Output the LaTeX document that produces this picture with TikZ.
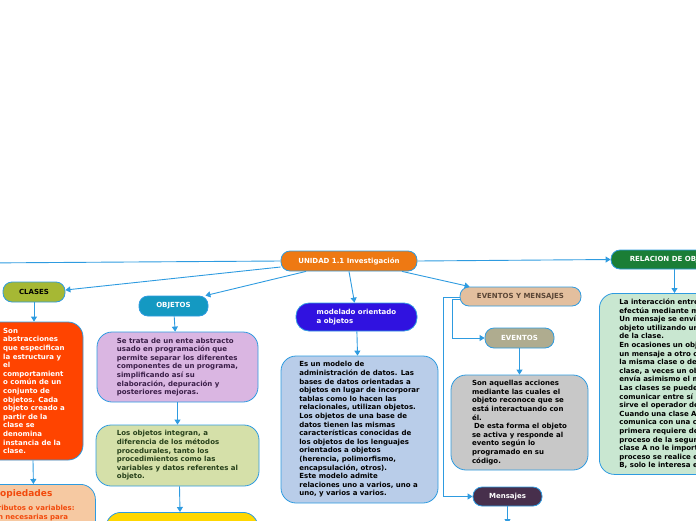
\documentclass[tikz,border=0pt]{standalone}
\usepackage{fontspec}
\setmainfont{DejaVu Sans}
\usetikzlibrary{arrows.meta,positioning}
\definecolor{MapBlue}{HTML}{2E9BE0}
\definecolor{RootOrange}{HTML}{EE7913}
\definecolor{ClasesOlive}{HTML}{A6B834}
\definecolor{ObjetosTeal}{HTML}{1499C2}
\definecolor{ModeloBlue}{HTML}{3012E0}
\definecolor{EymTan}{HTML}{E3BF9E}
\definecolor{EymText}{HTML}{5B4636}
\definecolor{EventosGray}{HTML}{AFAC8F}
\definecolor{MensajesPlum}{HTML}{472F4C}
\definecolor{RelacionGreen}{HTML}{1B7E36}
\definecolor{ClasesRed}{HTML}{FF4400}
\definecolor{PropPeach}{HTML}{F6C9A2}
\definecolor{PropText}{HTML}{F24A0C}
\definecolor{ObjLilac}{HTML}{DAB6E2}
\definecolor{ObjLilacText}{HTML}{3A1E48}
\definecolor{ObjSage}{HTML}{D5E0A9}
\definecolor{ObjSageText}{HTML}{26401A}
\definecolor{ObjYellow}{HTML}{FFD700}
\definecolor{ModeloSky}{HTML}{B9CDE9}
\definecolor{EventosSilver}{HTML}{C8C8C8}
\definecolor{RelacionMint}{HTML}{C9E7D1}
\tikzset{
    % Rounded topic boxes
    topic/.style={
        rectangle,
        rounded corners=9pt,
        draw=MapBlue,
        line width=0.8pt,
        inner sep=0pt,
        align=center,
        font=\fontsize{7}{8.6}\selectfont\bfseries
    },
    topic root/.style={
        topic,
        fill=RootOrange,
        text=white,
        minimum width=136pt,
        minimum height=20pt
    },
    topic small/.style={
        topic,
        minimum width=69pt,
        minimum height=20pt
    },
    topic wide/.style={
        topic,
        minimum width=121pt,
        minimum height=19pt
    },
    note/.style={
        topic,
        rounded corners=15pt,
        align=left
    },
    arrow/.style={
        -{Triangle[width=6pt,length=5pt]},
        line width=0.9pt,
        color=MapBlue
    },
    link/.style={
        line width=0.9pt,
        color=MapBlue
    }
}
\begin{document}
\begin{tikzpicture}[x=1pt, y=-1pt]
        \clip (0,0) rectangle (696,520);
        % Main topics
        \node[topic root] (root) at (349,261) {UNIDAD 1.1 Investigación};
        \node[topic small, fill=ClasesOlive, minimum width=62pt] (clases) at (34,292) {CLASES};
        \node[topic small, fill=ObjetosTeal, text=white] (objetos) at (173.5,306) {OBJETOS};
        \node[topic wide, fill=ModeloBlue, text=white, align=left, minimum height=28pt, rounded corners=13pt]
              (modelado) at (356.5,317) {modelado orientado\\a objetos};
        \node[topic wide, fill=EymTan, text=EymText] (eym) at (520.5,296.5) {EVENTOS Y MENSAJES};
        \node[topic small, fill=EventosGray, text=white] (eventos) at (519.5,338) {EVENTOS};
        \node[topic small, fill=MensajesPlum, text=white, minimum height=19pt] (mensajes) at (507.5,496.5) {Mensajes};
        \node[topic, fill=RelacionGreen, text=white, minimum width=127pt, minimum height=19pt]
              (relacion) at (674.5,259.5) {RELACION DE OBJETOS};

        % Notes
        \node[note, fill=ClasesRed, text=white, minimum width=98pt, minimum height=138pt]
              (clasesdesc) at (34,391)
              {Son\\abstracciones\\que especifican\\la estructura y\\el\\comportamient\\o común de un\\conjunto de\\objetos. Cada\\objeto creado a\\partir de la\\clase se\\denomina\\instancia de la\\clase.};
        \node[note, fill=PropPeach, text=PropText, anchor=north west, minimum width=127pt,
              inner xsep=20pt, inner ysep=5pt]
              (props) at (-32,484)
              {{\fontsize{9}{11}\selectfont Propiedades}\\[6pt]Atributos o variables:\\son necesarias para\\[4pt]};
        \node[note, fill=ObjLilac, text=ObjLilacText, minimum width=161pt, minimum height=70pt]
              (objdesc) at (177.5,367)
              {Se trata de un ente abstracto\\usado en programación que\\permite separar los diferentes\\componentes de un programa,\\simplificando así su\\elaboración, depuración y\\posteriores mejoras.};
        \node[note, fill=ObjSage, text=ObjSageText, minimum width=163pt, minimum height=61pt]
              (objint) at (177.5,455.5)
              {Los objetos integran, a\\diferencia de los métodos\\procedurales, tanto los\\procedimientos como las\\variables y datos referentes al\\objeto.};
        \node[note, fill=ObjYellow, anchor=north, minimum width=152pt, minimum height=40pt]
              (objnext) at (182,512) {};
        \node[note, fill=ModeloSky, text=black, minimum width=157pt, minimum height=147pt]
              (modelodesc) at (359.5,429.5)
              {Es un modelo de\\administración de datos. Las\\bases de datos orientadas a\\objetos en lugar de incorporar\\tablas como lo hacen las\\relacionales, utilizan objetos.\\Los objetos de una base de\\datos tienen las mismas\\características conocidas de\\los objetos de los lenguajes\\orientados a objetos\\(herencia, polimorfismo,\\encapsulación, otros).\\Este modelo admite\\relaciones uno a varios, uno a\\uno, y varios a varios.};
        \node[note, fill=EventosSilver, text=black, minimum width=137pt, minimum height=95pt]
              (eventosdesc) at (519.5,422.5)
              {Son aquellas acciones\\mediante las cuales el\\objeto reconoce que se\\está interactuando con\\él.\\\hspace{2pt}De esta forma el objeto\\se activa y responde al\\evento según lo\\programado en su\\código.};
        \node[note, fill=RelacionMint, text=black, anchor=north west, minimum height=181pt,
              inner xsep=20pt]
              (relaciondesc) at (599,293)
              {La interacción entre objetos se\\efectúa mediante mensajes.\\Un mensaje se envía a un\\objeto utilizando un método\\de la clase.\\En ocasiones un objeto envía\\un mensaje a otro objeto de\\la misma clase o de otra\\clase, a veces un objeto se\\envía asimismo el mensaje.\\Las clases se pueden\\comunicar entre sí para ello\\sirve el operador de envío.\\Cuando una clase A se\\comunica con una clase B, la\\primera requiere de algún\\proceso de la segunda, a la\\clase A no le importa cómo el\\proceso se realice en la clase\\B, solo le interesa el resultado.};

        % Free ends beyond the frame
        \coordinate (offleft) at (-20,263);
        \coordinate (offbottom) at (507.5,524);

        % Connectors from the root
        \draw[link] (root.west) -- (offleft);
        \draw[arrow] ([yshift=-6pt]root.west) -- ([yshift=2pt]clases.east);
        \draw[arrow] ([xshift=-43pt]root.south) -- ([xshift=-3pt]objetos.north east);
        \draw[arrow] (root.south) -- ([xshift=-2pt]modelado.north);
        \draw[arrow] ([xshift=53pt]root.south) -- ([xshift=10pt]eym.north west);
        \draw[arrow] (root.east) -- (relacion.west);

        % Connectors inside the branches
        \draw[arrow] (clases) -- (clasesdesc);
        \draw[arrow] ([xshift=-1pt]clasesdesc.south) -- ([xshift=1.5pt]props.north);
        \draw[arrow] (objetos) -- (objdesc);
        \draw[arrow] (objdesc) -- (objint);
        \draw[arrow] ([xshift=2pt]objint.south) -- ([xshift=-2pt]objnext.north);
        \draw[arrow] (modelado) -- (modelodesc);
        \draw[arrow] ([yshift=-3pt]eym.west) -- ++(-7,0) |- (eventos.west);
        \draw[arrow] ([yshift=-1pt]eym.west) -- ++(-16,0) |- (mensajes.west);
        \draw[arrow] (eventos) -- (eventosdesc);
        \draw[arrow] (mensajes) -- (offbottom);
        \draw[arrow] (relacion.south) -- (relacion.south |- relaciondesc.north);
    \end{tikzpicture}
\end{document}
